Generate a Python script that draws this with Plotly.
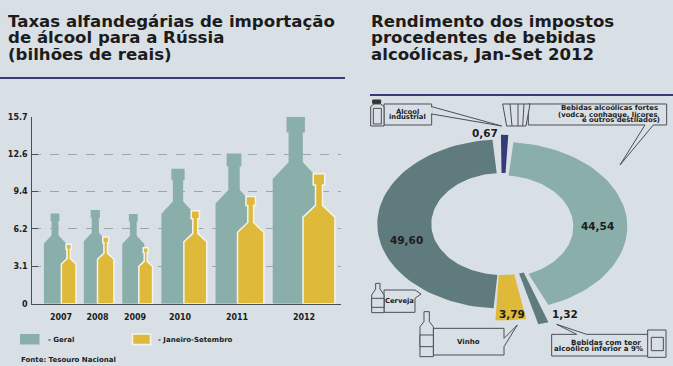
import numpy as np
import plotly.graph_objects as go

W, H = 673, 366
BG = "#d8e0e6"; TEAL = "#8aaeaa"; DARK = "#5f7b7e"; NAVY = "#373a78"; YEL = "#dfb93a"; INK = "#1c1c1c"; LINE = "#4a4f55"
FONT = "DejaVu Sans"

years = ["2007", "2008", "2009", "2010", "2011", "2012"]
geral = [7.58, 7.86, 7.53, 11.33, 12.6, 15.7]
jan_set = [5.0, 5.6, 4.7, 7.8, 9.0, 10.9]
y_ticks = [0, 3.14, 6.28, 9.42, 12.56, 15.7]
y_tick_text = ["0", "3.1", "6.2", "9.4", "12.6", "15.7"]

slice_names = ["Álcool industrial", "Bebidas alcoólicas fortes", "Bebidas com teor alcoólico inferior a 9%", "Vinho", "Cerveja"]
slice_values = [0.67, 44.54, 1.32, 3.79, 49.60]
slice_text = ["0,67", "44,54", "1,32", "3,79", "49,60"]
slice_colors = [NAVY, TEAL, DARK, YEL, DARK]

# layout (pixels)
geral_x = [55, 95.3, 133.3, 178, 234, 295.7]
jan_x = [68.7, 105.7, 145.7, 195.3, 250.7, 319]
year_x = [61, 97.5, 135, 180, 237, 304]
PX_PER_UNIT = 2.93


def bottle(cx, v, neck, cap):
    w = PX_PER_UNIT * v
    xs = np.array([-.5, -.5, -neck/2, -neck/2, -cap/2, -cap/2, cap/2, cap/2, neck/2, neck/2, .5, .5, -.5]) * w + cx
    ys = np.array([0, .667, .757, .915, .915, 1, 1, .915, .915, .757, .667, 0, 0]) * v
    return xs, ys


fig = go.Figure()
for x, v, y in zip(geral_x, geral, years):
    xs, ys = bottle(x, v, .31, .4)
    fig.add_trace(go.Scatter(x=xs, y=ys, fill="toself", mode="lines", line=dict(color=TEAL, width=0), fillcolor=TEAL,
                             name="Geral " + y, showlegend=False, hoverinfo="name"))
for x, v, y in zip(jan_x, jan_set, years):
    xs, ys = bottle(x, v, .22, .36)
    fig.add_trace(go.Scatter(x=xs, y=ys, fill="toself", mode="lines", line=dict(color="#f4f4ee", width=1.5), fillcolor=YEL,
                             name="Janeiro-Setembro " + y, showlegend=False, hoverinfo="name"))

# donut drawn as an ellipse: unit circle scaled by the axes of the second subplot
CX, CY, RX, RY = 502.3, 224, 125, 84.5
INNER_X, INNER_Y = 71 / 125, 51 / 84.5
outer_scale = [1.055, 1.0, 1.22, 1.14, 1.0]
inset = [-0.4, 3.6, 0.4, 0.6, 3.6]
turn = [0.7, 0, 0, 3, 0]
drop = [0, -0.03, 0, 0, 0]
ROT = 0.3
bounds = np.concatenate([[0], np.cumsum(slice_values)]) / sum(slice_values) * 360
bounds = bounds - slice_values[0] / 100 * 180 + ROT
for i, name in enumerate(slice_names):
    t = np.radians(np.linspace(bounds[i] + inset[i], bounds[i + 1] - inset[i], 60) + turn[i])
    xo, yo = np.sin(t) * outer_scale[i], np.cos(t) * outer_scale[i] + drop[i]
    xi, yi = np.sin(t[::-1]) * INNER_X, np.cos(t[::-1]) * INNER_Y + drop[i]
    fig.add_trace(go.Scatter(x=np.r_[xo, xi, xo[0]], y=np.r_[yo, yi, yo[0]], xaxis="x2", yaxis="y2", fill="toself",
                             mode="lines", line=dict(width=0, color=slice_colors[i]), fillcolor=slice_colors[i],
                             name=name, showlegend=False, hoverinfo="name"))


def px(x): return x / W
def py(y): return 1 - y / H


def path(points, close=True):
    s = "M " + " L ".join(f"{px(x):.5f} {py(y):.5f}" for x, y in points)
    return s + (" Z" if close else "")


shapes = []
def poly(points, fill=BG, color=LINE, width=1, close=True, layer="above"):
    shapes.append(dict(type="path", path=path(points, close), xref="paper", yref="paper",
                       fillcolor=fill if close else None, line=dict(color=color, width=width), layer=layer))

def z(x, y):  # coordinates of the right-hand panel
    return (360 + x / 3, 90 + y / 3)

annotations = []
def text(x, y, s, size=8, anchor="left", color=INK, weight="bold", family=FONT):
    annotations.append(dict(x=px(x), y=py(y), xref="paper", yref="paper", text=s, showarrow=False, xanchor=anchor,
                            yanchor="middle", align=anchor, borderpad=0, font=dict(family=family, size=size, color=color, weight=weight)))

# titles and rules
for i, s in enumerate(["Taxas alfandegárias de importação", "de álcool para a Rússia", "(bilhões de reais)"]):
    text(7, 21.5 + i * 16.4, s, size=16.6)
for i, s in enumerate(["Rendimento dos impostos", "procedentes de bebidas", "alcoólicas, Jan-Set 2012"]):
    text(370, 21.5 + i * 16.4, s, size=16.6)
poly([(0, 78), (345, 78)], color=NAVY, width=2, close=False)
poly([(370, 95), (673, 95)], color=NAVY, width=2, close=False)

# legend
poly([(20, 334), (39.5, 334), (39.5, 344.5), (20, 344.5)], fill=TEAL, color=TEAL, width=0)
poly([(132.5, 334), (150.5, 334), (150.5, 344.5), (132.5, 344.5)], fill=YEL, color="#f4f4ee", width=1.5)
text(47, 339.5, "- Geral", size=7)
text(157, 339.5, "- Janeiro-Setembro", size=7)
text(20, 360, "Fonte: Tesouro Nacional", size=7)

# slice labels
text(484.7, 133, slice_text[0], size=10.5, anchor="center")
text(597, 225.5, slice_text[1], size=10.5, anchor="center")
text(406, 240, slice_text[4], size=10.5, anchor="center")
text(512, 313.5, slice_text[3], size=10.5, anchor="center")
text(565, 314, slice_text[2], size=10.5, anchor="center")

# callouts
poly([z(215, 50), z(425, 108), z(215, 72)], color=LINE)
poly([z(72, 42), z(215, 42), z(215, 105), z(72, 105)])
poly([z(215, 52), z(215, 70)], color=BG, width=2, close=False)
text(*z(143, 63), "Álcool", size=6.8, anchor="center")
text(*z(141, 82), "industrial", size=6.8, anchor="center")
poly([z(32, 108), z(32, 50), z(42, 42), z(62, 42), z(72, 50), z(72, 108)])
poly([z(40, 102), z(40, 55), z(64, 55), z(64, 102)])
poly([z(38, 30), z(62, 30), z(62, 40), z(38, 40)], fill="#333", color="#333")

poly([z(505, 42), z(920, 42), z(920, 105), z(880, 105), z(780, 225), z(855, 105), z(505, 105)])
poly([z(428, 42), z(510, 42), z(498, 108), z(440, 108)])
for a, b in [(450, 456), (474, 474), (492, 488)]:
    poly([z(a, 42), z(b, 108)], close=False)
text(*z(898, 55), "Bebidas alcoólicas fortes", size=6.9, anchor="right")
text(*z(898, 74), "(vodca, conhaque, licores", size=6.9, anchor="right")
text(*z(904, 91), "e outros destilados)", size=6.9, anchor="right")

poly([z(72, 600), z(165, 600), z(183, 612), z(165, 625), z(165, 667), z(72, 667)])
poly([z(35, 668), z(35, 615), z(47, 597), z(47, 580), z(60, 580), z(60, 597), z(72, 615), z(72, 668)])
poly([z(35, 625), z(72, 625), z(72, 652), z(35, 652)])
text(*z(118, 632), "Cerveja", size=6.8, anchor="center")

poly([z(220, 715), z(432, 715), z(432, 745), z(472, 705), z(432, 770), z(432, 795), z(220, 795)])
poly([z(180, 800), z(180, 710), z(192, 695), z(192, 665), z(208, 665), z(208, 695), z(220, 710), z(220, 800)])
poly([z(180, 735), z(220, 735), z(220, 770), z(180, 770)])
text(*z(326, 757), "Vinho", size=7, anchor="center")

poly([z(575, 733), z(650, 733), z(590, 703), z(680, 733), z(865, 733), z(865, 798), z(575, 798)])
poly([z(863, 720), z(918, 720), z(918, 802), z(863, 802)])
poly([z(874, 742), z(910, 742), z(910, 782), z(874, 782)])
text(*z(738, 757), "Bebidas com teor", size=7.1, anchor="center")
text(*z(716, 774), "alcoólico inferior a 9%", size=7.1, anchor="center")

tickfont = dict(family=FONT, size=8, color=INK, weight="bold")
fig.update_layout(
    width=W, height=H, margin=dict(l=0, r=0, t=0, b=0, pad=0, autoexpand=False), autosize=False,
    paper_bgcolor=BG, plot_bgcolor="rgba(0,0,0,0)", showlegend=False,
    shapes=shapes, annotations=annotations, font=dict(family=FONT),
    xaxis=dict(domain=[px(32.3), px(341)], range=[32.3, 341], tickvals=year_x, ticktext=years, ticks="", showgrid=False,
               zeroline=False, showline=True, linecolor=LINE, linewidth=1.2, tickfont=tickfont, ticklabelstandoff=6, anchor="y", fixedrange=True),
    yaxis=dict(domain=[py(303.7), py(116.7)], range=[0, 15.7], tickvals=y_ticks, ticktext=y_tick_text, ticks="inside", ticklen=6,
               tickcolor=LINE, showgrid=True, gridcolor="#9ba7ab", griddash="dash", gridwidth=1, zeroline=False, showline=True,
               linecolor=LINE, linewidth=1.2, tickfont=tickfont, ticklabelstandoff=2, anchor="x", fixedrange=True),
    xaxis2=dict(domain=[px(360), 1], range=[(360 - CX) / RX, (673 - CX) / RX], visible=False, anchor="y2", fixedrange=True),
    yaxis2=dict(domain=[0, py(90)], range=[(CY - 366) / RY, (CY - 90) / RY], visible=False, anchor="x2", fixedrange=True),
)
fig.write_html("out.html", config=dict(displayModeBar=False),
               post_script="document.body.style.margin='0';document.documentElement.style.overflow='hidden';document.body.style.background='" + BG + "';")
